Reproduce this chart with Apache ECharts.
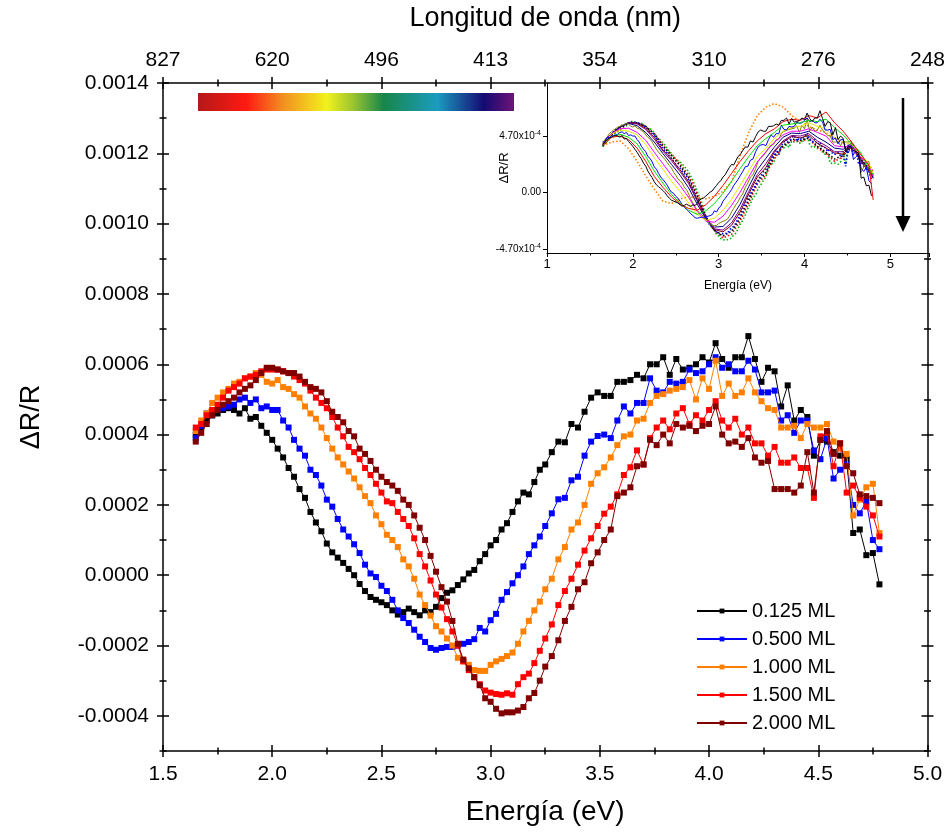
<!DOCTYPE html>
<html><head><meta charset="utf-8">
<script src="https://cdn.jsdelivr.net/npm/echarts@6/dist/echarts.min.js"></script>
<style>html,body{margin:0;padding:0;background:#fff}#c{width:948px;height:832px}</style>
</head><body><div id="c"></div>
<script>
// ---------- DATA (values in units of 1e-4) ----------
const energy = [
1.650,1.675,1.700,1.725,1.750,1.775,1.800,1.825,1.850,1.875,
1.900,1.925,1.950,1.975,2.000,2.025,2.050,2.075,2.100,2.125,
2.150,2.175,2.200,2.225,2.250,2.275,2.300,2.325,2.350,2.375,
2.400,2.425,2.450,2.475,2.500,2.525,2.550,2.575,2.600,2.625,
2.650,2.675,2.700,2.725,2.750,2.775,2.800,2.825,2.850,2.875,
2.900,2.925,2.950,2.975,3.000,3.025,3.050,3.075,3.100,3.125,
3.150,3.175,3.200,3.225,3.250,
3.28,3.31,3.34,3.37,3.40,3.43,3.46,3.49,3.52,3.55,
3.58,3.61,3.64,3.67,3.70,3.73,3.76,3.79,3.82,3.85,
3.88,3.91,3.94,3.97,4.00,4.03,4.06,4.09,4.12,4.15,
4.18,4.21,4.24,4.27,4.30,4.33,4.36,4.39,4.42,4.45,
4.48,4.51,4.54,4.57,4.60,4.63,4.66,4.69,4.72,4.75,
4.78];
const ml0125 = [
4.0,4.2,4.4,4.55,4.6,4.7,4.75,4.7,4.6,4.75,
4.45,4.5,4.25,4.05,3.85,3.6,3.35,3.05,2.8,2.45,
2.2,1.8,1.5,1.25,0.9,0.65,0.5,0.35,0.18,0.0,
-0.25,-0.45,-0.62,-0.7,-0.77,-0.85,-1.0,-1.12,-1.05,-0.95,
-1.05,-1.14,-1.0,-1.05,-0.9,-0.65,-0.5,-0.43,-0.28,-0.12,
0.05,0.15,0.4,0.6,0.85,1.0,1.3,1.48,1.8,2.1,
2.35,2.3,2.65,3.0,3.15,
3.5,3.8,3.78,4.3,4.2,4.65,5.05,5.2,5.1,5.1,
5.5,5.5,5.55,5.7,5.6,6.0,6.0,6.2,5.7,6.15,
5.85,5.9,6.0,6.2,6.05,6.6,6.15,5.9,6.2,6.2,
6.8,6.15,5.5,5.9,5.8,4.8,5.4,4.4,4.7,4.5,
3.4,3.85,3.8,3.5,3.4,3.3,1.2,1.3,0.57,0.63,
-0.26];
const ml0500 = [
3.9,4.25,4.6,4.55,4.7,4.75,4.8,4.85,5.0,5.05,
4.9,5.0,4.75,4.8,4.7,4.7,4.4,4.2,3.85,3.6,
3.4,3.0,2.85,2.55,2.15,1.95,1.6,1.3,1.1,0.88,
0.63,0.3,0.05,-0.05,-0.3,-0.45,-0.7,-1.0,-1.22,-1.36,
-1.55,-1.75,-1.9,-2.07,-2.12,-2.07,-2.04,-2.04,-2.0,-1.95,
-1.9,-1.82,-1.5,-1.6,-1.28,-1.1,-0.7,-0.48,-0.23,0.0,
0.25,0.6,0.85,1.1,1.4,
1.76,2.16,2.2,2.7,2.8,3.4,3.8,3.96,4.0,3.9,
4.4,4.8,4.6,4.9,4.9,5.6,5.25,5.2,5.5,5.45,
5.5,5.85,5.75,5.8,6.0,6.2,5.9,6.0,5.8,5.8,
6.1,5.85,5.2,5.2,5.25,4.4,4.55,4.05,4.4,4.4,
3.55,3.3,3.9,2.75,3.0,3.15,2.0,1.76,2.1,1.0,
0.74];
const ml1000 = [
4.1,4.4,4.6,4.9,5.05,5.2,5.3,5.45,5.5,5.6,
5.65,5.75,5.7,5.5,5.45,5.55,5.35,5.3,5.15,5.05,
4.8,4.6,4.45,4.2,3.9,3.6,3.35,3.15,2.95,2.75,
2.5,2.25,2.05,1.7,1.45,1.15,1.0,0.8,0.45,0.25,
-0.1,-0.55,-0.85,-1.15,-1.45,-1.6,-1.8,-2.0,-2.35,-2.45,
-2.55,-2.7,-2.72,-2.72,-2.55,-2.45,-2.38,-2.3,-2.2,-1.95,
-1.6,-1.3,-1.0,-0.75,-0.4,
-0.1,0.45,0.8,1.3,1.5,2.0,2.6,2.9,3.07,3.35,
3.7,3.95,4.0,4.4,4.45,4.9,5.1,5.15,5.25,5.3,
5.35,5.55,5.0,5.6,5.3,6.1,5.1,5.45,5.1,5.2,
5.6,5.2,4.95,4.75,4.7,4.2,4.2,4.25,3.9,4.3,
4.2,4.2,4.3,3.8,3.6,3.45,1.7,2.15,2.5,2.6,
1.2];
const ml1500 = [
4.2,4.3,4.55,4.7,4.85,5.05,5.25,5.35,5.45,5.6,
5.65,5.7,5.8,5.85,5.85,5.85,5.8,5.75,5.65,5.55,
5.45,5.25,5.05,4.9,4.75,4.5,4.2,3.95,3.65,3.5,
3.3,3.05,2.85,2.6,2.35,2.1,2.05,1.8,1.6,1.4,
1.05,0.6,0.25,-0.15,-0.55,-0.92,-1.25,-1.6,-2.0,-2.45,
-2.7,-2.9,-3.1,-3.28,-3.34,-3.38,-3.4,-3.36,-3.4,-3.1,
-2.9,-2.8,-2.5,-2.15,-1.8,
-1.4,-0.85,-0.45,-0.1,0.3,0.7,1.05,1.4,1.75,1.95,
2.3,2.85,3.07,3.55,3.15,3.9,4.2,4.4,4.15,4.6,
4.75,4.3,4.55,4.4,4.7,4.95,4.4,4.2,4.45,4.0,
4.2,3.75,3.75,3.4,3.65,3.2,3.2,3.35,3.05,3.05,
2.2,3.95,4.05,3.1,3.75,2.35,2.55,2.2,1.95,1.7,
1.1];
const ml2000 = [
3.8,4.05,4.3,4.55,4.7,4.85,4.95,5.05,5.2,5.3,
5.4,5.55,5.75,5.9,5.9,5.85,5.8,5.75,5.75,5.65,
5.5,5.35,5.3,5.2,4.95,4.65,4.5,4.35,4.1,3.95,
3.6,3.45,3.25,3.0,2.8,2.65,2.55,2.4,2.15,2.0,
1.7,1.35,1.0,0.55,0.1,-0.34,-0.75,-1.3,-1.95,-2.4,
-2.65,-2.9,-3.13,-3.5,-3.6,-3.8,-3.93,-3.9,-3.9,-3.85,
-3.75,-3.5,-3.35,-3.0,-2.6,
-2.3,-1.85,-1.3,-0.9,-0.4,-0.2,0.34,0.65,1.0,1.3,
2.25,2.35,2.5,3.1,3.15,3.85,3.7,4.0,3.75,4.3,
4.2,4.25,4.1,4.25,4.3,4.8,4.0,3.75,3.8,3.65,
3.9,3.35,3.2,3.25,2.45,2.45,2.45,2.35,2.55,3.5,
2.35,3.85,4.1,3.45,3.75,3.1,2.9,2.3,2.25,2.2,
2.05];
const seriesNames = ['0.125 ML','0.500 ML','1.000 ML','1.500 ML','2.000 ML'];

// inset data (units of 1e-4)
const insetE = [1.65,1.75,1.85,1.95,2.05,2.15,2.25,2.35,2.45,2.55,2.65,2.75,2.85,2.95,3.05,3.15,3.25,3.35,3.45,3.55,3.65,3.75,3.85,3.95,4.05,4.15,4.25,4.35,4.45,4.55,4.65,4.75,4.8];
const insetRed = [3.9,4.6,4.7,4.4,3.7,2.6,1.35,0.45,-0.35,-0.95,-1.3,-1.45,-1.0,-0.3,0.6,1.6,2.6,3.5,4.3,4.9,5.3,5.9,6.1,6.0,6.4,6.2,6.7,5.8,5.1,4.2,3.2,2.3,-0.6];
const insetLime = [3.9,4.65,4.85,4.6,4.05,3.0,1.8,0.8,-0.15,-0.85,-1.45,-1.8,-1.5,-0.9,-0.05,0.95,2.0,3.0,3.9,4.5,5.0,5.6,5.7,5.8,6.0,5.9,6.1,5.4,4.8,4.0,3.4,2.0,1.5];
const insetYellow = [4.0,4.85,5.2,5.1,4.8,4.0,2.9,1.95,0.95,0.1,-0.85,-1.8,-2.3,-2.1,-1.45,-0.55,0.6,1.8,3.0,3.7,4.5,5.1,5.4,5.5,5.8,5.5,5.3,4.6,4.2,4.0,3.2,2.4,1.6];
const insetMagenta = [4.0,4.9,5.3,5.35,5.0,4.35,3.35,2.4,1.45,0.6,-0.4,-1.55,-2.35,-2.45,-1.95,-1.05,0.05,1.3,2.55,3.4,4.2,4.8,5.1,5.1,5.3,5.0,4.7,3.9,3.8,3.9,3.0,2.3,1.4];
const insetNavy = [4.1,4.9,5.45,5.75,5.55,5.0,4.2,3.25,2.35,1.45,0.4,-0.95,-2.15,-2.85,-2.8,-2.1,-0.95,0.5,1.9,2.85,3.8,4.6,4.95,4.9,5.1,4.6,4.2,3.7,3.6,4.1,2.8,2.0,1.2];
const insetPurple = [4.1,4.85,5.45,5.8,5.7,5.25,4.45,3.45,2.65,1.75,0.75,-0.7,-2.1,-3.0,-3.1,-2.5,-1.35,0.1,1.5,2.4,3.5,4.3,4.75,4.7,4.9,4.3,3.9,3.4,3.4,4.0,2.7,1.9,1.3];
const insetWine = [4.2,4.85,5.45,5.8,5.75,5.35,4.6,3.55,2.8,1.9,0.9,-0.6,-2.05,-3.05,-3.25,-2.7,-1.6,-0.1,1.3,2.1,3.4,4.2,4.65,4.55,4.75,4.1,3.7,3.3,3.2,4.0,2.6,1.8,1.2];
const insetBlackDot = [3.9,4.8,5.35,5.8,5.8,5.5,4.85,3.85,3.05,2.25,1.25,-0.3,-2.0,-3.1,-3.6,-3.2,-2.1,-0.6,0.9,1.7,3.1,3.9,4.45,4.35,4.55,3.85,3.35,2.8,3.1,4.0,2.8,2.0,1.5];
const insetRedDot = [3.85,4.75,5.3,5.8,5.8,5.5,4.9,3.95,3.15,2.4,1.45,-0.1,-1.95,-3.1,-3.75,-3.45,-2.35,-0.85,0.7,1.5,2.95,3.8,4.35,4.25,4.5,3.75,3.25,2.6,3.0,4.05,2.9,2.1,1.8];
const insetOrangeDot = [3.9,4.2,4.3,3.65,2.6,1.4,0.3,-0.7,-0.9,-0.5,-0.35,-0.4,-0.5,-0.3,0.1,0.9,3.1,5.0,6.4,7.1,7.4,7.1,6.4,5.9,5.5,5.2,5.0,4.5,4.1,3.6,2.8,1.8,1.2];

// tick labels
const topTickLabels = ['827','620','496','413','354','310','276','248'];
const yMajor = [-0.0004,-0.0002,0,0.0002,0.0004,0.0006,0.0008,0.0010,0.0012,0.0014];
const yMinor = [-0.0005,-0.0003,-0.0001,0.0001,0.0003,0.0005,0.0007,0.0009,0.0011,0.0013];
const insetYTicks = [-4.7e-4, 0, 4.7e-4];
const insetYLabels = ['-4.70x10', '0.00', '4.70x10'];
const insetYExp = '-4';

// ---------- CHART ----------
const U = 1e-4;
const FONT = 'Liberation Sans, Arial, sans-serif';
const chart = echarts.init(document.getElementById('c'), null, {renderer:'canvas'});
const mainColors = ['#000000','#0000ff','#ff8000','#ff0000','#800000'];
const mainSets = [ml0125, ml0500, ml1000, ml1500, ml2000];
const toPairs = (xs, ys) => xs.map((x, i) => [x, ys[i] * U]);

const tickLS = {color:'#000', width:1.5};
const noLine = {show:false, onZero:false};
function yAx(position, inside, vals, len, extra) {
  return Object.assign({
    type:'value', gridIndex:0, position, min:-0.0005, max:0.0014,
    axisLine:noLine, splitLine:{show:false},
    axisTick:{show:true, inside, length:len, customValues:vals, lineStyle:tickLS},
    axisLabel:{show:false}
  }, extra || {});
}
function xAx(position, inside, extra) {
  return Object.assign({
    type:'value', gridIndex:0, position, min:1.5, max:5.0, interval:0.5,
    axisLine:noLine, splitLine:{show:false},
    axisTick:{show:true, inside, length:6, lineStyle:tickLS},
    minorTick:{show:true, splitNumber:2, length:3.5, lineStyle:tickLS},
    axisLabel:{show:false}
  }, extra || {});
}
const axLine = {show:true, onZero:false, lineStyle:{color:'#000', width:1.5}};

const xAxes = [
  xAx('bottom', false, {
    axisLine: axLine,
    axisLabel:{show:true, fontSize:21, color:'#000', margin:13, fontFamily:FONT, formatter:v=>v.toFixed(1)},
    name:'Energía (eV)', nameLocation:'middle', nameGap:47,
    nameTextStyle:{fontSize:28, color:'#000', fontFamily:FONT}
  }),
  xAx('bottom', true),
  xAx('top', false, {
    axisLine: axLine,
    axisLabel:{show:true, fontSize:21, color:'#000', margin:12, fontFamily:FONT,
      formatter:v=>topTickLabels[Math.round((v-1.5)/0.5)]},
    name:'Longitud de onda (nm)', nameLocation:'middle', nameGap:51,
    nameTextStyle:{fontSize:27, color:'#000', fontFamily:FONT}
  }),
  xAx('top', true),
  // inset x axis
  {type:'value', gridIndex:1, position:'bottom', min:1, max:5.45, interval:1,
   axisLine:{show:true, onZero:false, lineStyle:{color:'#000', width:1}}, splitLine:{show:false},
   axisTick:{show:true, length:4, lineStyle:{color:'#000'}},
   minorTick:{show:true, splitNumber:2, length:2.5, lineStyle:{color:'#000'}},
   axisLabel:{show:true, fontSize:13, color:'#000', margin:5, fontFamily:FONT,
     formatter:v=>(Math.abs(v-Math.round(v))<1e-9 && v<=5) ? String(Math.round(v)) : ''},
   name:'Energía (eV)', nameLocation:'middle', nameGap:27,
   nameTextStyle:{fontSize:12, color:'#000', fontFamily:FONT}}
];
const yAxes = [
  yAx('left', false, yMajor, 6, {
    axisLine: axLine,
    axisLabel:{show:true, customValues:yMajor, fontSize:21, color:'#000', margin:14, fontFamily:FONT,
      formatter:v=>v.toFixed(4)},
    name:'ΔR/R', nameLocation:'middle', nameGap:118, nameRotate:90,
    nameTextStyle:{fontSize:27, color:'#000', fontFamily:FONT}
  }),
  yAx('left', true, yMajor, 6),
  yAx('left', false, yMinor, 3.5),
  yAx('left', true, yMinor, 3.5),
  yAx('right', false, yMajor, 6, {axisLine: axLine}),
  yAx('right', true, yMajor, 6),
  yAx('right', false, yMinor, 3.5),
  yAx('right', true, yMinor, 3.5),
  // inset y axis
  {type:'value', gridIndex:1, position:'left', min:-5.0e-4, max:9.1e-4,
   axisLine:{show:true, onZero:false, lineStyle:{color:'#000', width:1}}, splitLine:{show:false},
   axisTick:{show:true, length:4, customValues:insetYTicks, lineStyle:{color:'#000'}},
   axisLabel:{show:true, customValues:insetYTicks, margin:6, color:'#000', fontFamily:FONT,
     formatter:v=>{
       const i = insetYTicks.findIndex(t=>Math.abs(t-v)<1e-9);
       if (i === 1) return '{a|' + insetYLabels[i] + '}';
       return '{a|' + insetYLabels[i] + '}{b|' + insetYExp + '}';
     },
     rich:{a:{fontSize:10, fontFamily:FONT, color:'#000'},
           b:{fontSize:7, fontFamily:FONT, color:'#000', verticalAlign:'top', padding:[0,0,6,0]}}},
   name:'ΔR/R', nameLocation:'middle', nameGap:36, nameRotate:90, nameMoveOverlap:false,
   nameTextStyle:{fontSize:13, color:'#000', fontFamily:FONT}}
];

const series = mainSets.map((arr, i) => ({
  type:'line', name:seriesNames[i], xAxisIndex:0, yAxisIndex:0,
  data: toPairs(energy, arr),
  symbol:'rect', symbolSize:6, showAllSymbol:true,
  lineStyle:{color:mainColors[i], width:1}, itemStyle:{color:mainColors[i]},
  emphasis:{disabled:true}, z:2+i
}));

const dotted = [1.5, 2];
const insetDefs = [
  {xs:insetE, ys:insetOrangeDot, c:'#ff8000', d:true},
  {xs:energy, ys:ml2000, c:'#00b000', d:true},
  {xs:insetE, ys:insetRedDot, c:'#ff0000', d:true},
  {xs:insetE, ys:insetBlackDot, c:'#000000', d:true},
  {xs:energy, ys:ml1500, c:'#0000ff', d:true},
  {xs:insetE, ys:insetWine, c:'#800000', d:false},
  {xs:insetE, ys:insetPurple, c:'#800080', d:false},
  {xs:insetE, ys:insetNavy, c:'#000080', d:false},
  {xs:energy, ys:ml1000, c:'#808000', d:false},
  {xs:insetE, ys:insetMagenta, c:'#ff00ff', d:false},
  {xs:insetE, ys:insetYellow, c:'#e6e600', d:false},
  {xs:energy, ys:ml0500, c:'#0000ff', d:false},
  {xs:insetE, ys:insetLime, c:'#00e000', d:false},
  {xs:insetE, ys:insetRed, c:'#ff0000', d:false},
  {xs:energy, ys:ml0125, c:'#000000', d:false}
];
insetDefs.forEach((s, i) => series.push({
  type:'line', xAxisIndex:4, yAxisIndex:8, data: toPairs(s.xs, s.ys),
  symbol:'none', lineStyle:{color:s.c, width: s.d ? 1.6 : 1, type: s.d ? dotted : 'solid'},
  emphasis:{disabled:true}, z:2, silent:true
}));

chart.setOption({
  animation:false,
  backgroundColor:'#fff',
  textStyle:{fontFamily:FONT},
  grid:[
    {left:163, right:19, top:83, bottom:81, containLabel:false},
    {left:547, right:19, top:83, bottom:579, containLabel:false}
  ],
  xAxis: xAxes,
  yAxis: yAxes,
  legend:{
    data: seriesNames, orient:'vertical', left:691, top:596,
    itemWidth:50, itemHeight:6, itemGap:8,
    textStyle:{fontSize:20, color:'#000', fontFamily:FONT, lineHeight:20},
    selectedMode:false
  },
  graphic:[
    {type:'rect', shape:{x:198, y:93, width:316, height:18}, z:10,
     style:{fill:{type:'linear', x:0, y:0, x2:1, y2:0, colorStops:[
       {offset:0, color:'#b41818'}, {offset:0.153, color:'#ff1a12'},
       {offset:0.27, color:'#f39020'}, {offset:0.407, color:'#f2f21c'},
       {offset:0.49, color:'#9cc530'}, {offset:0.587, color:'#17864a'},
       {offset:0.757, color:'#1b9cc0'}, {offset:0.905, color:'#140a72'},
       {offset:1, color:'#6e1478'}]}}},
    {type:'line', shape:{x1:903, y1:98, x2:903, y2:220}, z:10, style:{stroke:'#000', lineWidth:2.5}},
    {type:'polygon', shape:{points:[[895.5,216],[910.5,216],[903,232]]}, z:10, style:{fill:'#000'}}
  ],
  series
});
</script></body></html>
